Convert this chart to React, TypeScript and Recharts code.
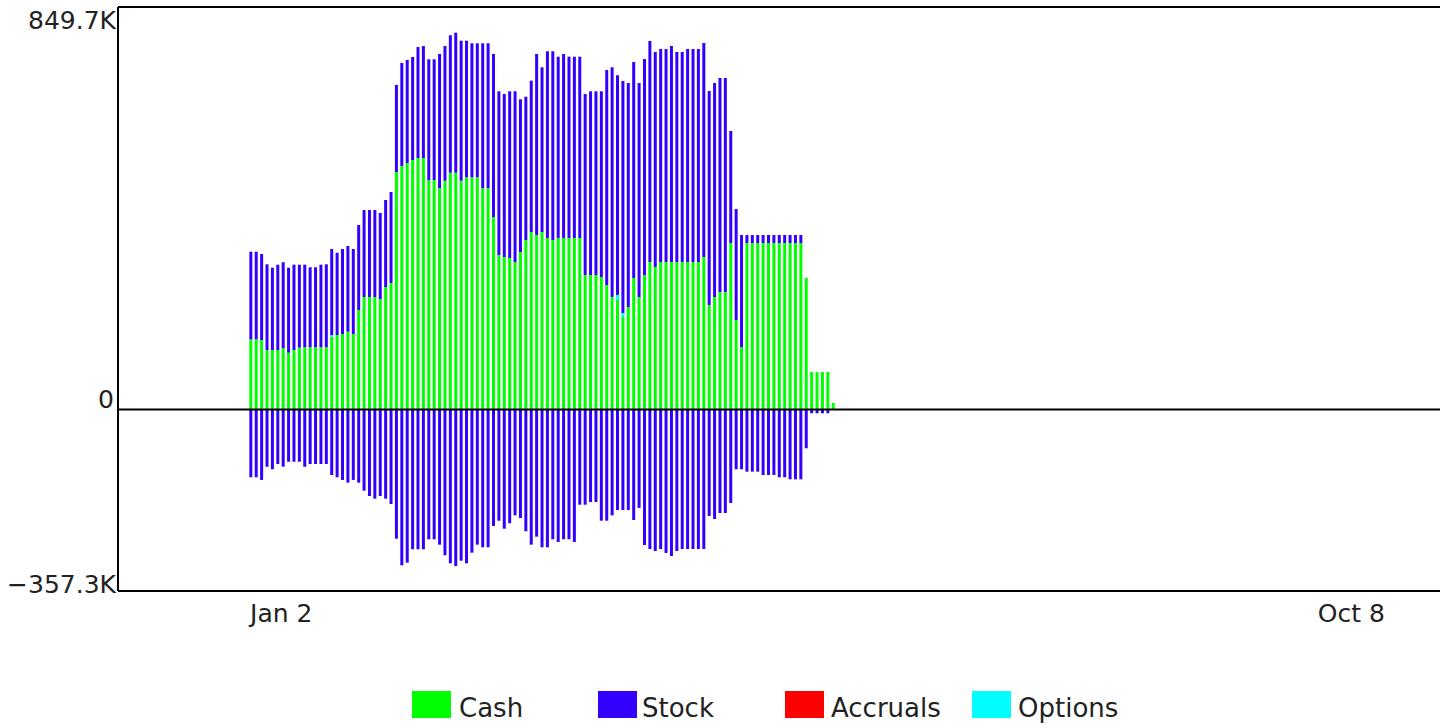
import React from 'react';
import { BarChart, Bar, XAxis, YAxis, ReferenceLine, Legend } from 'recharts';

// values in thousands, one entry per trading day starting Jan 2
const cash = [
  148.2, 148.2, 146.7, 125.6, 125.6, 125.6, 129.2, 119.9, 125.6, 130.5,
  131.3, 131.3, 131.3, 131.3, 131.3, 153.7, 157.3, 159.4, 164.2, 159.4,
  210.1, 237.5, 237.5, 237.5, 233.3, 258.6, 267.1, 501.4, 514.1, 520.4,
  526.7, 530.9, 530.9, 484.5, 484.5, 467.0, 483.0, 499.9, 499.9, 483.0,
  490.2, 490.2, 490.2, 467.0, 467.0, 406.4, 326.2, 321.9, 319.8, 311.4,
  332.5, 357.8, 374.7, 368.4, 374.7, 362.1, 357.8, 362.1, 362.1, 362.1,
  362.1, 362.1, 283.9, 283.9, 283.9, 279.7, 262.8, 237.5, 231.2, 195.3,
  216.4, 277.6, 237.5, 283.9, 311.4, 300.8, 311.4, 311.4, 311.4, 311.4,
  311.4, 311.4, 311.4, 311.4, 321.9, 220.6, 237.5, 248.1, 248.1, 351.5,
  188.9, 131.9, 351.5, 351.5, 351.5, 351.5, 351.5, 351.5, 351.5, 351.5,
  351.5, 351.5, 351.5, 277.6, 79.2, 79.2, 79.2, 79.2, 13.7,
];

const stockLong = [
  184.9, 184.9, 181.6, 180.9, 173.7, 180.1, 181.6, 179.4, 180.1, 175.2,
  174.4, 168.9, 168.9, 174.4, 175.2, 182.0, 173.7, 179.4, 180.9, 179.4,
  179.4, 183.7, 183.7, 183.7, 181.6, 183.7, 192.1, 183.7, 217.4, 217.4,
  217.4, 234.3, 236.4, 254.8, 254.8, 283.5, 284.4, 290.1, 295.6, 295.6,
  288.4, 282.9, 282.9, 306.1, 306.1, 344.1, 345.6, 344.1, 351.9, 360.4,
  322.4, 302.5, 319.4, 382.1, 347.7, 394.1, 398.4, 382.7, 388.4, 382.7,
  382.7, 382.7, 382.1, 387.8, 387.8, 392.0, 453.9, 484.9, 463.8, 489.8,
  472.9, 456.0, 451.8, 456.0, 466.6, 453.9, 449.7, 449.7, 456.0, 443.3,
  443.3, 449.7, 449.7, 449.7, 451.8, 451.8, 451.8, 451.8, 451.8, 236.4,
  234.3, 236.4, 16.9, 16.9, 16.9, 16.9, 16.9, 16.9, 16.9, 16.9,
  16.9, 16.9, 16.9, 0, 0, 0, 0, 0, 0,
];

const stockShort = [
  -143.1, -143.1, -148.8, -120.8, -126.2, -115.1, -120.8, -110.2, -110.2, -110.2,
  -120.8, -115.1, -115.1, -115.1, -115.1, -138.3, -143.1, -148.8, -154.5, -148.8,
  -154.5, -171.4, -182.6, -188.3, -182.6, -188.3, -199.5, -272.8, -328.9, -323.4,
  -295.1, -295.1, -295.1, -274.0, -274.0, -285.4, -307.8, -324.7, -330.4, -319.2,
  -324.7, -302.3, -285.4, -290.9, -290.9, -245.9, -234.8, -251.6, -240.2, -223.4,
  -229.1, -257.1, -285.4, -268.5, -290.9, -290.9, -274.0, -279.7, -274.0, -274.0,
  -279.7, -201.0, -201.0, -195.3, -195.3, -234.8, -234.8, -223.4, -212.2, -212.2,
  -212.2, -233.3, -207.9, -286.1, -294.5, -298.7, -294.5, -302.9, -309.3, -298.7,
  -294.5, -294.5, -294.5, -294.5, -294.5, -224.8, -231.2, -218.5, -218.5, -197.4,
  -126.2, -126.2, -131.3, -131.3, -131.3, -138.3, -138.3, -138.3, -143.1, -143.1,
  -147.4, -147.4, -147.4, -81.9, -8.0, -8.0, -8.0, -8.0, 0,
];

// options only show up on a few days
const optionDays = [15, 68, 69];
const optionValues = [3.2, 10.6, 8.4];

const tickDays = [0, 198];
const tickLabels = ['Jan 2', 'Oct 8'];
const yTicks = [849.7, 0, -357.3];

const legendNames = ['Cash', 'Stock', 'Accruals', 'Options'];
const legendColors = ['#00ff00', '#3300ff', '#ff0000', '#00ffff'];

const data = cash.map((c, i) => {
  const k = optionDays.indexOf(i);
  return {
    day: i,
    cash: c,
    options: k >= 0 ? optionValues[k] : 0,
    stock: stockLong[i],
    short: stockShort[i],
  };
});

const font = 'DejaVu Sans, sans-serif';

const fmtK = (v: number) => (v === 0 ? '0' : (v < 0 ? '\u2212' : '') + Math.abs(v).toFixed(1) + 'K');

const YTick = ({ y, payload }: any) => {
  const v = payload.value;
  const dy = v > 0 ? 13 : v < 0 ? 6 : -9.5;
  return (
    <text x={v === 0 ? 114 : 116} y={y + dy} textAnchor="end" dominantBaseline="central"
      fontSize={25} fontFamily={font} fill="#222">
      {fmtK(v)}
    </text>
  );
};

const XTick = ({ x, payload }: any) => {
  const k = tickDays.indexOf(payload.value);
  return (
    <text x={x - 1} y={622} fontSize={25} fontFamily={font} fill="#222">
      {tickLabels[k]}
    </text>
  );
};

const swatchX = [412, 598, 785, 972];
const labelX = [459, 642, 831, 1018];

const renderLegend = () => (
  <svg width={1440} height={48} style={{ display: 'block' }}>
    {legendNames.map((n, k) => (
      <g key={n}>
        <rect x={swatchX[k]} y={11} width={39} height={27} fill={legendColors[k]} />
        <text x={labelX[k]} y={37} fontSize={26} fontFamily={font} fill="#222">{n}</text>
      </g>
    ))}
  </svg>
);

export default function App() {
  return (
    <div style={{ position: 'absolute', left: 0, top: 0, width: 1440, height: 728, overflow: 'hidden', background: '#fff', fontFamily: font }}>
      <BarChart width={1480} height={728} data={data} stackOffset="sign" barSize={3}
        margin={{ top: 7, right: 20, bottom: 0, left: 0 }}>
        <XAxis type="number" dataKey="day" domain={[-24.67, 224.2]} allowDataOverflow
          ticks={tickDays} interval={0} height={137} tickLine={false}
          axisLine={{ stroke: '#000', strokeWidth: 2 }} tick={<XTick />} />
        <YAxis type="number" domain={[-383.2, 849.7]} allowDataOverflow ticks={yTicks}
          interval={0} width={118} tickLine={false}
          axisLine={{ stroke: '#000', strokeWidth: 2 }} tick={<YTick />} />
        <Bar dataKey="cash" stackId="a" fill="#00ff00" isAnimationActive={false} />
        <Bar dataKey="options" stackId="a" fill="#00ffff" isAnimationActive={false} />
        <Bar dataKey="stock" stackId="a" fill="#3300ff" isAnimationActive={false} />
        <Bar dataKey="short" stackId="a" fill="#3300ff" isAnimationActive={false} />
        <ReferenceLine y={0} stroke="#000" strokeWidth={2} />
        <ReferenceLine y={849.7} stroke="#000" strokeWidth={2} />
        <Legend layout="horizontal" verticalAlign="middle" align="center" content={renderLegend}
          wrapperStyle={{ left: 0, top: 680, width: 1440, height: 48 }} />
      </BarChart>
    </div>
  );
}
